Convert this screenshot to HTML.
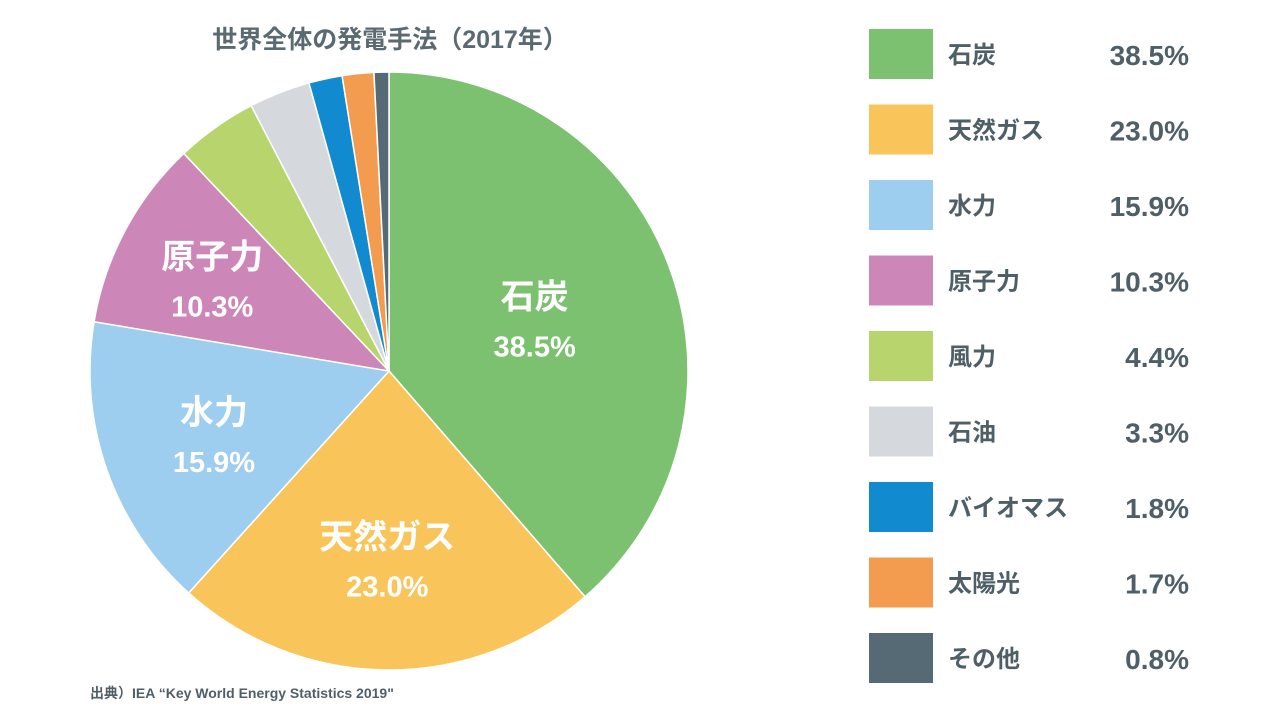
<!DOCTYPE html>
<html><head><meta charset="utf-8">
<style>
body{margin:0;width:1280px;height:720px;background:#fff;overflow:hidden;font-family:"Liberation Sans","Noto Sans CJK JP",sans-serif;}
svg{position:absolute;left:0;top:0}
</style></head><body>
<svg id="chart" width="1280" height="720" xmlns="http://www.w3.org/2000/svg">
<text x="390" y="48" text-anchor="middle" font-size="25" font-weight="bold" fill="#5a6a72" font-family="Liberation Sans, Noto Sans CJK JP, sans-serif">世界全体の発電手法（2017年）</text>
<g id="slices"></g>
<g id="sliceLabels" font-family="Liberation Sans, Noto Sans CJK JP, sans-serif" font-weight="bold" fill="#fff" text-anchor="middle"></g>
<g id="legend" font-family="Liberation Sans, Noto Sans CJK JP, sans-serif" font-weight="bold" fill="#4f5f68"></g>
<text x="90" y="698" font-size="14" font-weight="bold" fill="#4f5f68" font-family="Liberation Sans, Noto Sans CJK JP, sans-serif">出典）IEA “Key World Energy Statistics 2019"</text>
</svg>
<script>
const categories=["石炭","天然ガス","水力","原子力","風力","石油","バイオマス","太陽光","その他"];
const values=[38.5,23.0,15.9,10.3,4.4,3.3,1.8,1.7,0.8];
const valueLabels=["38.5%","23.0%","15.9%","10.3%","4.4%","3.3%","1.8%","1.7%","0.8%"];
const colors=["#7BC16F","#F9C55B","#9DCDEF","#CC86B8","#B8D56D","#D5D9DD","#128AD0","#F39C4F","#566A75"];
const NS="http://www.w3.org/2000/svg";
const cx=389,cy=371,R=299;
const total=values.reduce((a,b)=>a+b,0);
function pt(frac,r){const a=frac*2*Math.PI-Math.PI/2;return [cx+r*Math.cos(a),cy+r*Math.sin(a)];}
const gS=document.getElementById('slices'),gL=document.getElementById('sliceLabels'),gG=document.getElementById('legend');
let acc=0;
values.forEach((v,i)=>{
  const f0=acc/total,f1=(acc+v)/total;acc+=v;
  const p0=pt(f0,R),p1=pt(f1,R);
  const large=(f1-f0)>0.5?1:0;
  const p=document.createElementNS(NS,'path');
  p.setAttribute('d',`M${cx},${cy}L${p0[0]},${p0[1]}A${R},${R} 0 ${large} 1 ${p1[0]},${p1[1]}Z`);
  p.setAttribute('fill',colors[i]);p.setAttribute('stroke','#fff');p.setAttribute('stroke-width','1.5');
  
  
  gS.appendChild(p);
  if(v>=10){
    const rf=[0.52,0.62,0.62,0.67][i];
    const c=pt((f0+f1)/2,R*rf);
    const t1=document.createElementNS(NS,'text');
    t1.setAttribute('x',c[0]);t1.setAttribute('y',c[1]-8);t1.setAttribute('font-size','34');
    t1.textContent=categories[i];
    
    
    gL.appendChild(t1);
    const t2=document.createElementNS(NS,'text');
    t2.setAttribute('x',c[0]);t2.setAttribute('y',c[1]+40);t2.setAttribute('font-size','29');
    t2.textContent=valueLabels[i];
    
    
    gL.appendChild(t2);
  }
  const y=29+i*75.5;
  const r=document.createElementNS(NS,'rect');
  r.setAttribute('x',869);r.setAttribute('y',y);r.setAttribute('width',64);r.setAttribute('height',50);r.setAttribute('fill',colors[i]);
  
  
  gG.appendChild(r);
  const n=document.createElementNS(NS,'text');
  n.setAttribute('x',948);n.setAttribute('y',y+34);n.setAttribute('font-size','24');n.textContent=categories[i];
  
  
  gG.appendChild(n);
  const pv=document.createElementNS(NS,'text');
  pv.setAttribute('x',1189);pv.setAttribute('y',y+36);pv.setAttribute('font-size','28');pv.setAttribute('text-anchor','end');pv.textContent=valueLabels[i];
  
  
  gG.appendChild(pv);
});
</script>
</body></html>
